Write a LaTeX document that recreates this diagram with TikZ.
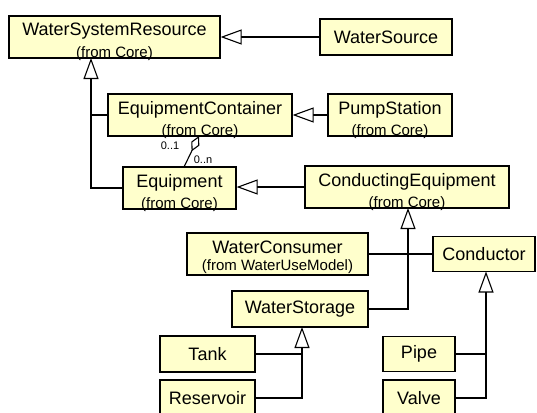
\documentclass[tikz,border=0pt]{standalone}
\usepackage{fontspec}
\setmainfont{Liberation Sans}
\usetikzlibrary{arrows.meta}
\definecolor{boxfill}{RGB}{255,255,204}
\newcommand\fromtxt[1]{{\fontsize{15}{16}\selectfont #1}}
\newcommand\twoline[2]{\vbox to 42pt{\offinterlineskip
  \hbox{\vrule height 20pt depth 0pt width 0pt\makebox[0pt]{#1}}%
  \hbox{\vrule height 17.5pt depth 0pt width 0pt\makebox[0pt]{\fromtxt{#2}}}\vfil}}
\begin{document}
\begin{tikzpicture}[x=1pt,y=-1pt,
  cls/.style={draw=black, line width=1.2pt, fill=boxfill, inner sep=0pt,
              font=\fontsize{18}{19}\selectfont},
  conn/.style={line width=1.1pt},
  gen/.style={conn, -{Triangle[open,length=21pt,width=15pt,fill=white]}},
  agg/.style={conn, -{Diamond[open,length=17pt,width=9pt,fill=white]}},
  mult/.style={font=\fontsize{11}{12}\selectfont, inner sep=0pt}]
\useasboundingbox (0,0) rectangle (537,412);
\clip (0,0) rectangle (537,412);
% classes
\node[cls, minimum width=211pt, minimum height=42pt] (wsr) at (114.5,37) {\twoline{WaterSystemResource}{(from Core)}};
\node[cls, minimum width=132pt, minimum height=36pt] (ws) at (386,37) {WaterSource};
\node[cls, minimum width=184pt, minimum height=42pt] (ec) at (200,115) {\twoline{EquipmentContainer}{(from Core)}};
\node[cls, minimum width=124pt, minimum height=42pt] (ps) at (390,115) {\twoline{PumpStation}{(from Core)}};
\node[cls, minimum width=113pt, minimum height=42pt] (eq) at (179.5,188) {\twoline{Equipment}{(from Core)}};
\node[cls, minimum width=204pt, minimum height=42pt] (ce) at (407,187) {\twoline{ConductingEquipment}{(from Core)}};
\node[cls, minimum width=181pt, minimum height=42pt] (wc) at (277.5,254) {\twoline{WaterConsumer}{(from WaterUseModel)}};
\node[cls, minimum width=102pt, minimum height=35pt] (cond) at (484,254) {Conductor};
\node[cls, minimum width=136pt, minimum height=36pt] (wstor) at (300,309) {WaterStorage};
\node[cls, minimum width=95pt, minimum height=36pt] (tank) at (207.5,354) {Tank};
\node[cls, minimum width=95pt, minimum height=36pt] (res) at (207.5,398) {Reservoir};
\node[cls, minimum width=72pt, minimum height=35pt] (pipe) at (419,354) {Pipe};
\node[cls, minimum width=72pt, minimum height=36pt] (valve) at (419,398) {Valve};
% anchor points on superclass borders
\coordinate (wsrb) at (91,58);
\coordinate (ceb) at (408,208);
\coordinate (wsb) at (302,327);
\coordinate (condb) at (486,271.5);
\coordinate (agt) at (199,136);
\coordinate (agb) at (184,167);
% generalizations
\draw[gen] (ws.west) -- (wsr.east |- ws.west);
\draw[gen] (ps.west) -- (ec.east |- ps.west);
\draw[gen] (eq.west) -| (wsrb);
\draw[conn] (ec.west) -- (ec.west -| wsrb);
\draw[gen] (ce.west) -- (ce.west -| eq.east);
\draw[gen] (wstor.east) -| (ceb);
\draw[conn] (wc.east) -- (cond.west |- wc.east);
\draw[gen] (res.east) -| (wsb);
\draw[conn] (tank.east) -- (tank.east -| wsb);
\draw[gen] (valve.east) -| (condb);
\draw[conn] (pipe.east) -- (pipe.east -| condb);
% aggregation
\draw[agg] (agb) -- (agt);
\node[mult] (m1) at (170,146) {0..1};
\node[mult] (m2) at (203,160) {0..n};
\end{tikzpicture}
\end{document}
